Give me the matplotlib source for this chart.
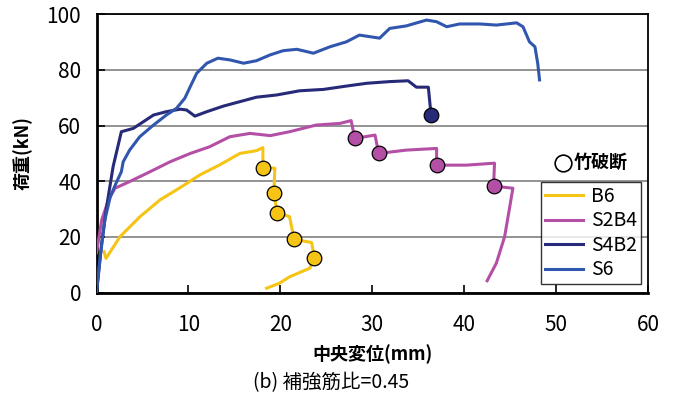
import matplotlib
matplotlib.use("Agg")
import matplotlib.pyplot as plt
from matplotlib.lines import Line2D

plt.rcParams['font.family'] = ['Noto Sans CJK JP', 'DejaVu Sans']

# ------------------------------------------------
# load-displacement curves (mm, kN)
b6_x = [0.82, 1.03, 2.55, 4.73, 6.9, 9.08, 11.25, 13.4, 15.6, 17.4, 18.1, 18.1,
        19.4, 19.3, 19.65, 21.0, 21.5, 23.4, 23.7, 23.2, 21.0, 19.9, 18.5]
b6_y = [14.7, 12.3, 20.1, 27.3, 33.3, 37.7, 42.3, 45.9, 50.0, 51.0, 52.1, 44.9,
        44.7, 35.9, 28.7, 27.3, 19.2, 18.0, 12.6, 8.8, 5.7, 3.4, 1.6]
b6_brk_x = [18.1, 19.3, 19.65, 21.5, 23.7]
b6_brk_y = [44.9, 35.9, 28.7, 19.2, 12.6]

s2b4_x = [0.0, 0.56, 1.3, 2.0, 3.6, 5.8, 8.0, 10.2, 12.3, 14.5, 16.7, 18.9, 21.0,
          23.9, 26.5, 27.7, 28.1, 30.3, 30.7, 33.7, 37.0, 37.0, 40.2, 43.3, 43.2,
          45.3, 44.9, 44.4, 43.5, 42.5]
s2b4_y = [14.3, 26.1, 33.3, 37.5, 39.9, 43.4, 47.0, 50.0, 52.4, 56.0, 57.2, 56.4, 57.8,
          60.2, 60.8, 61.8, 55.4, 56.6, 50.0, 51.2, 51.8, 45.8, 45.8, 46.5, 38.3,
          37.5, 29.7, 20.1, 10.6, 4.3]
s2b4_brk_x = [28.1, 30.7, 37.0, 43.2]
s2b4_brk_y = [55.4, 50.0, 45.8, 38.3]

s4b2_x = [0.0, 0.56, 1.1, 1.8, 2.7, 4.0, 5.1, 6.2, 7.6, 9.1, 9.8, 10.7, 12.0, 13.8,
          15.6, 17.4, 19.6, 22.1, 24.7, 27.2, 29.4, 31.9, 33.9, 34.8, 36.1, 36.4]
s4b2_y = [0.0, 17.7, 30.9, 45.2, 57.8, 59.0, 61.4, 63.8, 65.0, 65.9, 65.6, 63.4, 65.0, 67.0,
          68.6, 70.2, 71.0, 72.5, 73.0, 74.2, 75.2, 75.8, 76.1, 73.8, 73.8, 63.7]
s4b2_brk_x = [36.4]
s4b2_brk_y = [63.7]

s6_x = [0.0, 0.1, 0.4, 0.9, 1.5, 2.2, 2.7, 2.9, 3.6, 4.7, 6.2, 7.6, 8.7, 9.6, 10.2,
        10.9, 12.0, 13.2, 14.5, 16.0, 17.4, 18.9, 20.3, 21.8, 23.6, 25.4, 27.2, 28.6,
        30.8, 31.9, 33.7, 35.9, 37.0, 38.1, 39.5, 41.7, 43.5, 45.7, 46.4, 47.1, 47.7,
        48.0, 48.2]
s6_y = [0.0, 3.4, 12.9, 26.1, 34.5, 39.9, 43.4, 47.0, 51.2, 56.0, 60.2, 63.8, 66.2, 69.8, 74.0,
        78.8, 82.4, 84.2, 83.6, 82.4, 83.3, 85.4, 86.9, 87.4, 86.0, 88.3, 90.1, 92.5,
        91.4, 94.9, 95.8, 97.9, 97.3, 95.5, 96.5, 96.5, 96.1, 96.9, 95.5, 90.1, 88.3,
        82.4, 76.4]

fig = plt.figure(figsize=(6.75, 3.98), dpi=100)
ax = fig.add_axes([0.143, 0.2646, 0.817, 0.6997])

c_b6 = '#F5C414'
c_s2b4 = '#B44FA6'
c_s4b2 = '#262A78'
c_s6 = '#3156AE'

ax.plot(b6_x, b6_y, color=c_b6, lw=2.2, label='B6', zorder=3)
ax.plot(s2b4_x, s2b4_y, color=c_s2b4, lw=2.2, label='S2B4', zorder=3)
ax.plot(s4b2_x, s4b2_y, color=c_s4b2, lw=2.2, label='S4B2', zorder=3)
ax.plot(s6_x, s6_y, color=c_s6, lw=2.2, label='S6', zorder=3)

# bamboo rupture points
ax.plot(b6_brk_x, b6_brk_y, 'o', ms=10.5, mfc=c_b6, mec='black', mew=0.9, zorder=4)
ax.plot(s2b4_brk_x, s2b4_brk_y, 'o', ms=10.5, mfc=c_s2b4, mec='black', mew=0.9, zorder=4)
ax.plot(s4b2_brk_x, s4b2_brk_y, 'o', ms=10.5, mfc=c_s4b2, mec='black', mew=0.9, zorder=4)

ax.set_xlim(0, 60)
ax.set_ylim(0, 100)
ax.set_xticks(range(0, 61, 10))
ax.set_yticks(range(0, 101, 20))
ax.tick_params(direction='in', length=6, width=1.2, labelsize=15)
ax.tick_params(axis='x', pad=15)
ax.tick_params(axis='y', pad=11)
ax.yaxis.grid(True, color='#808080', lw=1.2, zorder=1)
ax.set_axisbelow(True)
for s in ['left', 'bottom']:
    ax.spines[s].set_linewidth(2.0)
for s in ['top', 'right']:
    ax.spines[s].set_linewidth(1.3)

ax.set_ylabel('荷重(kN)', fontsize=13, fontweight='bold', labelpad=10)
ax.set_xlabel('中央変位(mm)', fontsize=13, fontweight='bold', labelpad=6)
fig.text(0.49, 0.038, '(b) 補強筋比=0.45', ha='center', va='center', fontsize=14)

leg = ax.legend(loc='lower right', bbox_to_anchor=(0.9875, 0.03), fontsize=14,
                frameon=True, fancybox=False, edgecolor='black', handlelength=2.0,
                handletextpad=0.4, borderpad=0.2, labelspacing=0.18,
                borderaxespad=0)
leg.get_frame().set_linewidth(1.0)

ax.plot([0.846], [0.466], 'o', ms=12, mfc='white', mec='black', mew=1.2,
        transform=ax.transAxes, clip_on=False)
ax.text(0.866, 0.466, '竹破断', transform=ax.transAxes, fontsize=13,
        fontweight='bold', va='center', ha='left')

fig.savefig('out.png', dpi=100)
